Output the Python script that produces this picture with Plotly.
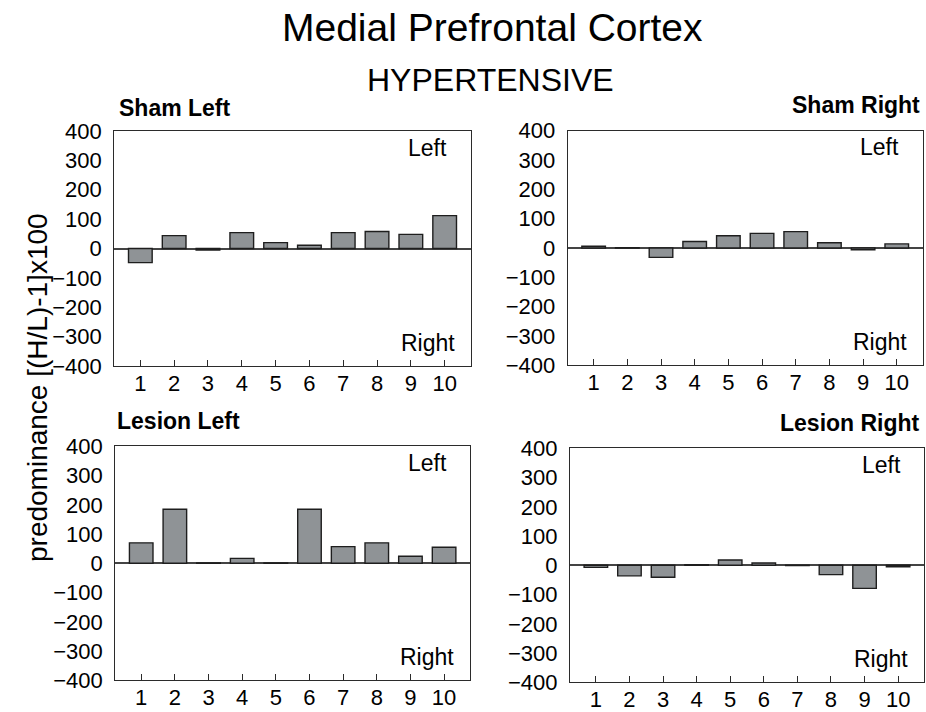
import plotly.graph_objects as go

positions = [1, 2, 3, 4, 5, 6, 7, 8, 9, 10]
tick_labels = ["1", "2", "3", "4", "5", "6", "7", "8", "9", "10"]

sham_left = [-48, 44, -5, 54, 20, 11, 54, 58, 48, 112]
sham_right = [6, 1, -32, 22, 42, 50, 56, 18, -6, 14]
lesion_left = [70, 185, 1, 17, 1, 185, 57, 70, 24, 55]
lesion_right = [-7, -36, -41, 2, 18, 8, -1, -32, -79, -5]

panel_titles = ["Sham Left", "Sham Right", "Lesion Left", "Lesion Right"]
y_ticks = [-400, -300, -200, -100, 0, 100, 200, 300, 400]

W, H = 926, 712
# pixel boxes (x0, x1, ytop, ybottom)
boxes = [
    (114.3, 470.7, 131.0, 366.0),
    (567.7, 922.7, 130.7, 365.3),
    (115.3, 470.0, 446.3, 680.3),
    (570.0, 924.0, 448.3, 682.3),
]
series = [sham_left, sham_right, lesion_left, lesion_right]

FONT = "Liberation Sans, Arial, sans-serif"
BAR_FILL = "#8f9396"
EDGE = "#1e1e1e"
AXIS = "#2b2b2b"

fig = go.Figure()
layout = dict(
    template="none",
    width=W, height=H, autosize=False,
    margin=dict(l=0, r=0, t=0, b=0, pad=0),
    paper_bgcolor="white", plot_bgcolor="white",
    showlegend=False,
    font=dict(family=FONT, size=22, color="black"),
    bargap=0.3,
)

annotations = []
for i, (vals, box) in enumerate(zip(series, boxes)):
    n = "" if i == 0 else str(i + 1)
    xa, ya = "x" + n, "y" + n
    fig.add_trace(go.Bar(
        x=positions, y=vals, xaxis=xa, yaxis=ya,
        width=0.7,
        marker=dict(color=BAR_FILL, line=dict(color=EDGE, width=1.4)),
        hoverinfo="x+y",
    ))
    x0, x1, yt, yb = box
    layout["xaxis" + n] = dict(
        domain=[x0 / W, x1 / W], range=[0.23, 10.77], anchor=ya,
        automargin=False,
        tickmode="array", tickvals=positions, ticktext=tick_labels,
        ticks="inside", ticklen=6, tickcolor=AXIS, tickwidth=1,
        ticklabelstandoff=-3,
        showline=True, linecolor=AXIS, linewidth=1.2, mirror=True,
        showgrid=False, zeroline=False,
        tickfont=dict(size=22, family=FONT, color="black"),
        fixedrange=True,
    )
    layout["yaxis" + n] = dict(
        domain=[1 - yb / H, 1 - yt / H], range=[-400, 400], anchor=xa,
        automargin=False,
        tickmode="array", tickvals=y_ticks,
        ticks="", ticklabelstandoff=7,
        showline=True, linecolor=AXIS, linewidth=1.2, mirror=True,
        showgrid=False, zeroline=True, zerolinecolor="#444444", zerolinewidth=1.5,
        tickfont=dict(size=22, family=FONT, color="black"),
        fixedrange=True,
    )
    annotations.append(dict(x=9.5, y=343, xref=xa, yref=ya, text="Left",
                            showarrow=False, xanchor="center", yanchor="middle",
                            font=dict(size=23, family=FONT, color="black")))
    annotations.append(dict(x=9.5, y=-322, xref=xa, yref=ya, text="Right",
                            showarrow=False, xanchor="center", yanchor="middle",
                            font=dict(size=23, family=FONT, color="black")))

# panel titles
title_pos = [
    (116.7, 108, "left"),
    (921.7, 105, "right"),
    (115.0, 421, "left"),
    (921.7, 422.5, "right"),
]
for t, (px, py, anc) in zip(panel_titles, title_pos):
    annotations.append(dict(x=px / W, y=1 - py / H, xref="paper", yref="paper",
                            text="<b>" + t + "</b>", showarrow=False,
                            xanchor=anc, yanchor="middle",
                            font=dict(size=23, family=FONT, color="black")))

annotations.append(dict(x=493 / W, y=1 - 28 / H, xref="paper", yref="paper",
                        text="Medial Prefrontal Cortex", showarrow=False,
                        xanchor="center", yanchor="middle",
                        font=dict(size=39, family=FONT, color="black")))
annotations.append(dict(x=491 / W, y=1 - 80 / H, xref="paper", yref="paper",
                        text="HYPERTENSIVE", showarrow=False,
                        xanchor="center", yanchor="middle",
                        font=dict(size=32, family=FONT, color="black")))
annotations.append(dict(x=37 / W, y=1 - 388 / H, xref="paper", yref="paper",
                        text="predominance [(H/L)-1]x100", showarrow=False,
                        textangle=-90, xanchor="center", yanchor="middle",
                        font=dict(size=28, family=FONT, color="black")))

layout["annotations"] = annotations
fig.update_layout(**layout)
fig.write_html("out.html", config={"displayModeBar": False},
               post_script="document.body.style.margin='0';document.body.style.overflow='hidden';")
